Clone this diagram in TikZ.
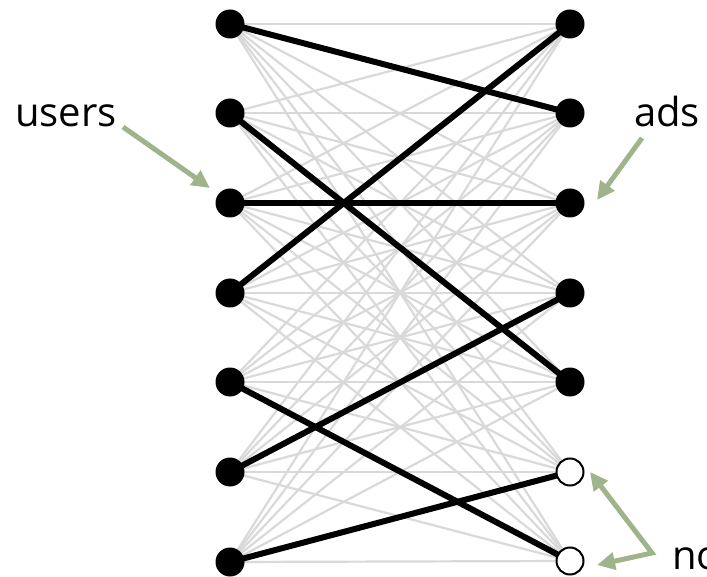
\documentclass[tikz,border=0pt]{standalone}
\usepackage{fontspec}
\setmainfont{Open Sans}
\usetikzlibrary{arrows.meta}
\definecolor{arrowgreen}{RGB}{160,180,140}
\definecolor{edgegrey}{RGB}{217,217,217}
\pgfdeclarelayer{background}
\pgfsetlayers{background,main}
\begin{document}
\begin{tikzpicture}[x=1pt,y=-1pt,
  dot/.style={circle,fill=black,minimum size=29pt,inner sep=0pt},
  opendot/.style={circle,draw=black,fill=white,line width=2pt,minimum size=27pt,inner sep=0pt},
  greyedge/.style={draw=edgegrey,line width=2.2pt},
  matchedge/.style={draw=black,line width=6pt},
  garrow/.style={draw=arrowgreen,line width=5pt},
  label/.style={font=\fontsize{40}{40}\selectfont,inner sep=0pt,anchor=base west}]
\useasboundingbox (0,0) rectangle (707,577);
\clip (0,0) rectangle (707,577);
% nodes
\foreach \i/\y in {1/24,2/113,3/203,4/293,5/382,6/472,7/562} {
  \node[dot] (L\i) at (230,\y) {};
}
\foreach \i/\y in {1/24,2/113,3/203,4/293,5/382} {
  \node[dot] (R\i) at (570,\y) {};
}
\node[opendot] (R6) at (570,472) {};
\node[opendot] (R7) at (570,561) {};
% edges
\begin{pgfonlayer}{background}
\foreach \i in {1,...,7} {
  \foreach \j in {1,...,7} {
    \draw[greyedge] (L\i.center) -- (R\j.center);
  }
}
\draw[matchedge] (L1.center) -- (R2.center);
\draw[matchedge] (L2.center) -- (R5.center);
\draw[matchedge] (L3.center) -- (R3.center);
\draw[matchedge] (L4.center) -- (R1.center);
\draw[matchedge] (L5.center) -- (R7.center);
\draw[matchedge] (L6.center) -- (R4.center);
\draw[matchedge] (L7.center) -- (R6.center);
\end{pgfonlayer}
% labels
\node[label] (users) at (15,127) {users};
\node[label] (ads) at (634,127) {ads};
\node[label] (no) at (672,569) {no};
% arrows
\coordinate (ua) at (123,127);
\coordinate (ub) at (210,188);
\coordinate (aa) at (642,138);
\coordinate (ab) at (597,200);
\coordinate (na) at (590,472);
\coordinate (nc) at (652,553);
\coordinate (nb) at (597,565);
\draw[garrow,-{Triangle[length=18pt,width=17pt]}] (ua) -- (ub);
\draw[garrow,-{Triangle[length=18pt,width=17pt]}] (aa) -- (ab);
\draw[garrow,{Triangle[length=18pt,width=17pt]}-{Triangle[length=18pt,width=17pt]}] (na) -- (nc) -- (nb);
\end{tikzpicture}
\end{document}
